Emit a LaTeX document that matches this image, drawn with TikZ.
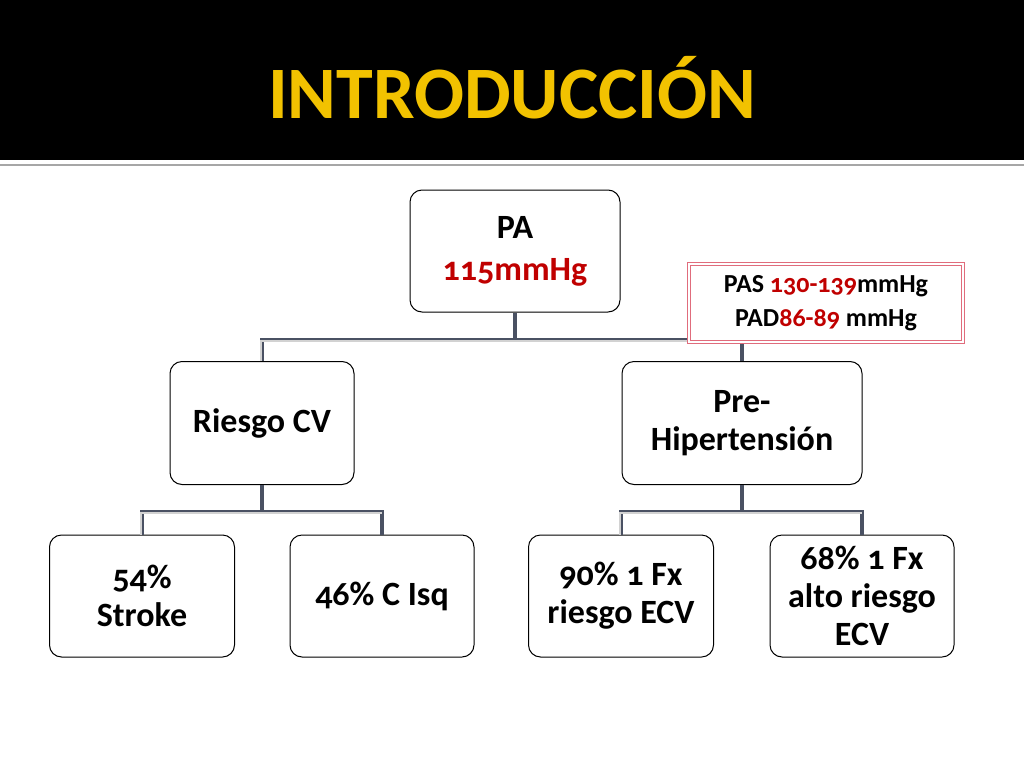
\documentclass[tikz,border=0pt]{standalone}
\usepackage{fontspec}
\setmainfont{Carlito}[Numbers=OldStyle]
\usetikzlibrary{positioning}
\definecolor{pared}{HTML}{C00000}
\definecolor{titulo}{HTML}{F2C200}
\definecolor{conector}{HTML}{4A5163}
\definecolor{rosa}{HTML}{E06C7C}
\tikzset{
  caja/.style={draw=black, line width=1pt, rounded corners=12pt, fill=white,
    align=center, font=\fontsize{34}{38}\selectfont\bfseries, inner sep=4pt},
  rama/.style={draw=conector, line width=4pt},
  brillo/.style={draw=gray!35, line width=1.2pt},
}
\newcommand{\conecta}[4]{% padre, hijo izq, hijo der, y media
  \draw[rama] (#1.south) -- (#1.south |- 0,#4) coordinate (m1);
  \draw[rama] (#2.north) -- (#2.north |- 0,#4) -- (#3.north |- 0,#4) -- (#3.north);
  \draw[brillo] ([xshift=-1pt]#2.north) -- ([xshift=-1pt,yshift=-1pt]#2.north |- 0,#4) -- ([yshift=-1pt]#3.north |- 0,#4);
}
\begin{document}
\begin{tikzpicture}[x=1pt,y=-1pt]
\useasboundingbox (0,0) rectangle (1024,768);
% Cabecera
\fill[black] (0,0) rectangle (1024,160);
\draw[gray!70, line width=2pt] (0,165) -- (1024,165);
\node[text=titulo, font=\fontsize{74}{80}\selectfont\bfseries] (tit) at (512,88) {INTRODUCCIÓN};

% Cajas
\node[caja, minimum width=210pt, minimum height=122pt] (pa) at (515,251) {PA\\[4pt]\textcolor{pared}{115mmHg}};
\node[caja, minimum width=184pt, minimum height=123pt] (riesgo) at (262,423) {Riesgo CV};
\node[caja, minimum width=240pt, minimum height=123pt] (pre) at (742,423) {Pre-\\Hipertensión};
\node[caja, minimum width=185pt, minimum height=122pt] (stroke) at (142,596) {54\%\\Stroke};
\node[caja, minimum width=184pt, minimum height=122pt] (isq) at (382,596) {46\% C Isq};
\node[caja, minimum width=185pt, minimum height=122pt] (fx) at (621,596) {90\% 1 Fx\\riesgo ECV};
\node[caja, minimum width=184pt, minimum height=122pt] (alto) at (862,596) {68\% 1 Fx\\alto riesgo\\ECV};

% Conectores
\conecta{pa}{riesgo}{pre}{340}
\conecta{riesgo}{stroke}{isq}{512}
\conecta{pre}{fx}{alto}{512}

% Nota
\node[draw=rosa, double=white, double distance=2pt, line width=1.2pt, fill=white,
  minimum width=274pt, minimum height=78pt, align=center,
  font=\fontsize{26}{34}\selectfont\bfseries] (nota) at (826,303)
  {PAS \textcolor{pared}{130-139}mmHg\\PAD\textcolor{pared}{86-89} mmHg};
\end{tikzpicture}
\end{document}
